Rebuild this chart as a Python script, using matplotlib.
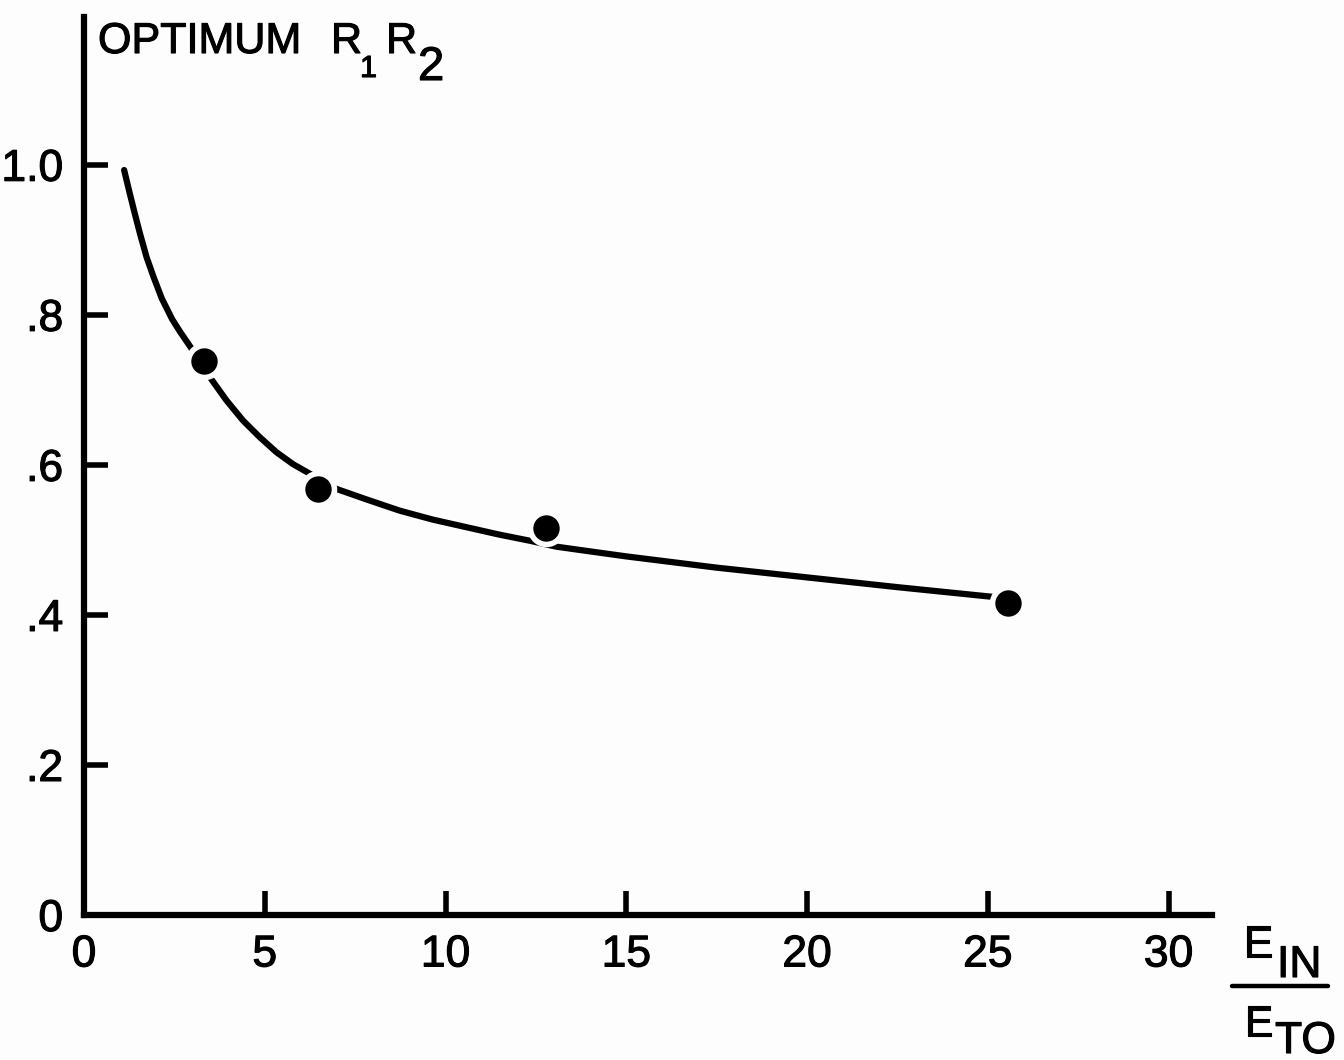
import matplotlib
matplotlib.use("Agg")
import matplotlib.pyplot as plt
import matplotlib.patheffects as pe
from matplotlib.lines import Line2D

# Measured optimum R1R2 against the energy ratio E_IN / E_TO
ratio_pts = [3.33, 6.47, 12.79, 25.55]
r1r2_pts = [0.738, 0.568, 0.516, 0.416]

# Hand-faired trend curve through the measurements
curve_x = [1.11, 1.27, 1.41, 1.55, 1.73, 1.92, 2.15, 2.44, 2.65, 2.975,
           3.48, 3.94, 4.40, 4.86, 5.32, 5.78, 6.29,
           6.98, 7.81, 8.73, 9.65, 10.57, 11.49, 12.32,
           13.06, 14.25, 15.00, 17.50, 20.00, 22.50, 25.15]
curve_y = [0.993, 0.961, 0.934, 0.908, 0.877, 0.851, 0.822, 0.794, 0.778, 0.755,
           0.717, 0.686, 0.659, 0.637, 0.617, 0.601, 0.587,
           0.568, 0.554, 0.539, 0.527, 0.517, 0.507, 0.499,
           0.491, 0.483, 0.478, 0.463, 0.450, 0.437, 0.424]

x_ticks = [0, 5, 10, 15, 20, 25, 30]
x_tick_labels = ["0", "5", "10", "15", "20", "25", "30"]
y_ticks = [0, 0.2, 0.4, 0.6, 0.8, 1.0]
y_tick_labels = ["0", ".2", ".4", ".6", ".8", "1.0"]

W, H = 1344, 1060
FONT = ["Liberation Sans", "DejaVu Sans"]
INK = "black"
BG = "#fdfdfd"
HEAVY = [pe.withStroke(linewidth=0.8, foreground=INK)]

fig = plt.figure(figsize=(W / 100, H / 100), dpi=100, facecolor=BG)
ax = fig.add_axes([84 / W, (H - 915) / H, (1212 - 84) / W, (915 - 17) / H])
ax.set_facecolor(BG)
ax.set_xlim(0, 31.2)
ax.set_ylim(0, 1.197)

for side in ("top", "right"):
    ax.spines[side].set_visible(False)
for side in ("left", "bottom"):
    ax.spines[side].set_linewidth(4.5)
    ax.spines[side].set_color(INK)

ax.set_xticks(x_ticks)
ax.set_xticklabels(x_tick_labels)
ax.set_yticks(y_ticks)
ax.set_yticklabels(y_tick_labels)
ax.tick_params(axis="both", direction="in", length=17, width=4, color=INK,
               labelsize=32, labelcolor=INK)
ax.tick_params(axis="x", pad=14)
ax.tick_params(axis="y", pad=15)
for lab in ax.get_xticklabels() + ax.get_yticklabels():
    lab.set_family(FONT)
    lab.set_path_effects(HEAVY)

# Faired curve, then points with a pale halo that breaks the line
ax.plot(curve_x, curve_y, color=INK, lw=4.5, solid_capstyle="round",
        solid_joinstyle="round", zorder=2)
ax.plot(ratio_pts, r1r2_pts, "o", color=BG, ms=27, mew=0, zorder=3)
ax.plot(ratio_pts, r1r2_pts, "o", color=INK, ms=19, mew=0, zorder=4)


def put(txt, x, y, size, **kw):
    """Place text with its left baseline at pixel (x, y) measured from the top."""
    fig.text(x / W, 1 - y / H, txt, fontsize=size, family=FONT, color=INK,
             ha="left", va="baseline", path_effects=HEAVY, **kw)


# Y-axis title: OPTIMUM R1 R2
put("OPTIMUM", 98, 53, 31)
put("R", 331, 53, 31)
put("1", 360, 77, 22)
put("R", 386, 53, 31)
put("2", 418, 80, 34)

# X-axis title: E_IN over E_TO
put("E", 1243, 957, 32)
put("IN", 1277, 977, 32)
fig.add_artist(Line2D([1232 / W, 1328 / W], [1 - 986 / H, 1 - 986 / H],
                      transform=fig.transFigure, color=INK, lw=3.2,
                      solid_capstyle="round"))
put("E", 1244, 1036, 31)
put("TO", 1275, 1053, 32)

fig.savefig("out.png", dpi=100, facecolor=BG)
